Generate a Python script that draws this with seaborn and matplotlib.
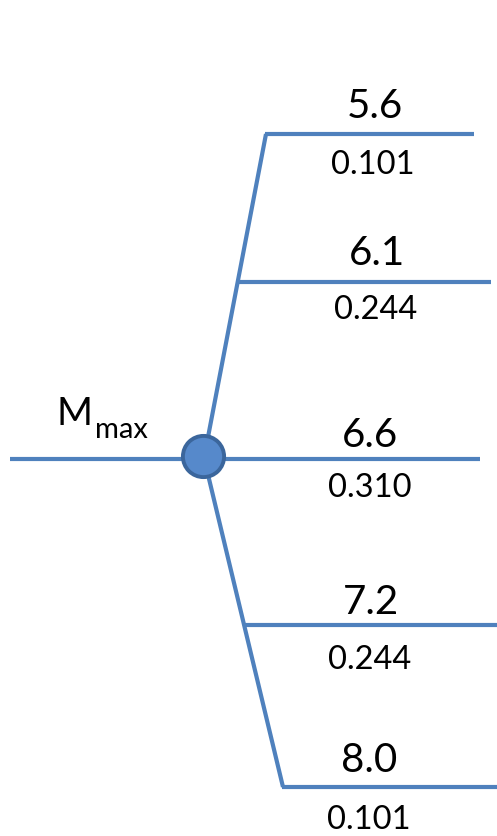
import matplotlib
matplotlib.use("Agg")
import matplotlib.pyplot as plt
import seaborn as sns
import pandas as pd

# Data
node_label = "M"
node_sub = "max"
magnitudes = ["5.6", "6.1", "6.6", "7.2", "8.0"]
weights = ["0.101", "0.244", "0.310", "0.244", "0.101"]

sns.set_theme(style="white")
plt.rcParams['font.family'] = ['Lato', 'DejaVu Sans']

W, H = 497, 836
fig = plt.figure(figsize=(W / 100, H / 100), dpi=100)
ax = fig.add_axes([0, 0, 1, 1])
ax.set_xlim(0, W)
ax.set_ylim(H, 0)
ax.axis("off")

blue = "#4F81BD"
lw = 3.0

# layout (pixel coordinates)
node = (204, 458)
branch_y = [134, 282, 459, 625, 787]
top_end = (266, 134)
bot_end = (283, 787)
right_end = [474, 491, 480, 497, 497]
mag_x = [375, 377, 370, 371, 369]
mag_dy = [-16, -17, -12, -11, -15]
w_x = [373, 376, 370, 370, 369]
w_dy = [40, 37, 38, 44, 42]


def xon(y):
    x0, y0 = node
    x1, y1 = top_end if y <= y0 else bot_end
    return x0 + (x1 - x0) * (y - y0) / (y1 - y0)


segs = []
segs.append(pd.DataFrame({"x": [10, node[0]], "y": [459, 459], "seg": "stem"}))
segs.append(pd.DataFrame({"x": [node[0], top_end[0]], "y": [node[1], top_end[1]], "seg": "up"}))
segs.append(pd.DataFrame({"x": [node[0], bot_end[0]], "y": [node[1], bot_end[1]], "seg": "down"}))
for i, (y, xe) in enumerate(zip(branch_y, right_end)):
    xs = xon(y) if i != 2 else node[0]
    segs.append(pd.DataFrame({"x": [xs - 1.5, xe], "y": [y, y], "seg": f"b{i}"}))
df = pd.concat(segs, ignore_index=True)

for name, g in df.groupby("seg", sort=False):
    sns.lineplot(data=g, x="x", y="y", ax=ax, color=blue, linewidth=lw,
                 sort=False, estimator=None, legend=False,
                 solid_capstyle="butt", solid_joinstyle="miter")

ax.scatter([203], [456], s=880, color="#5689CB",
           edgecolor="#3B669C", linewidth=2.8, zorder=5)

ax.set_xlabel("")
ax.set_ylabel("")
ax.axis("off")

for i, y in enumerate(branch_y):
    ax.text(mag_x[i], y + mag_dy[i], magnitudes[i], ha="center", va="baseline",
            fontsize=29, color="black")
    ax.text(w_x[i], y + w_dy[i], weights[i], ha="center", va="baseline",
            fontsize=23.5, color="black")

ax.text(74, 425, node_label, ha="center", va="baseline", fontsize=28, color="black")
ax.text(95, 438, node_sub, ha="left", va="baseline", fontsize=21, color="black")

fig.savefig("out.png", dpi=100)
